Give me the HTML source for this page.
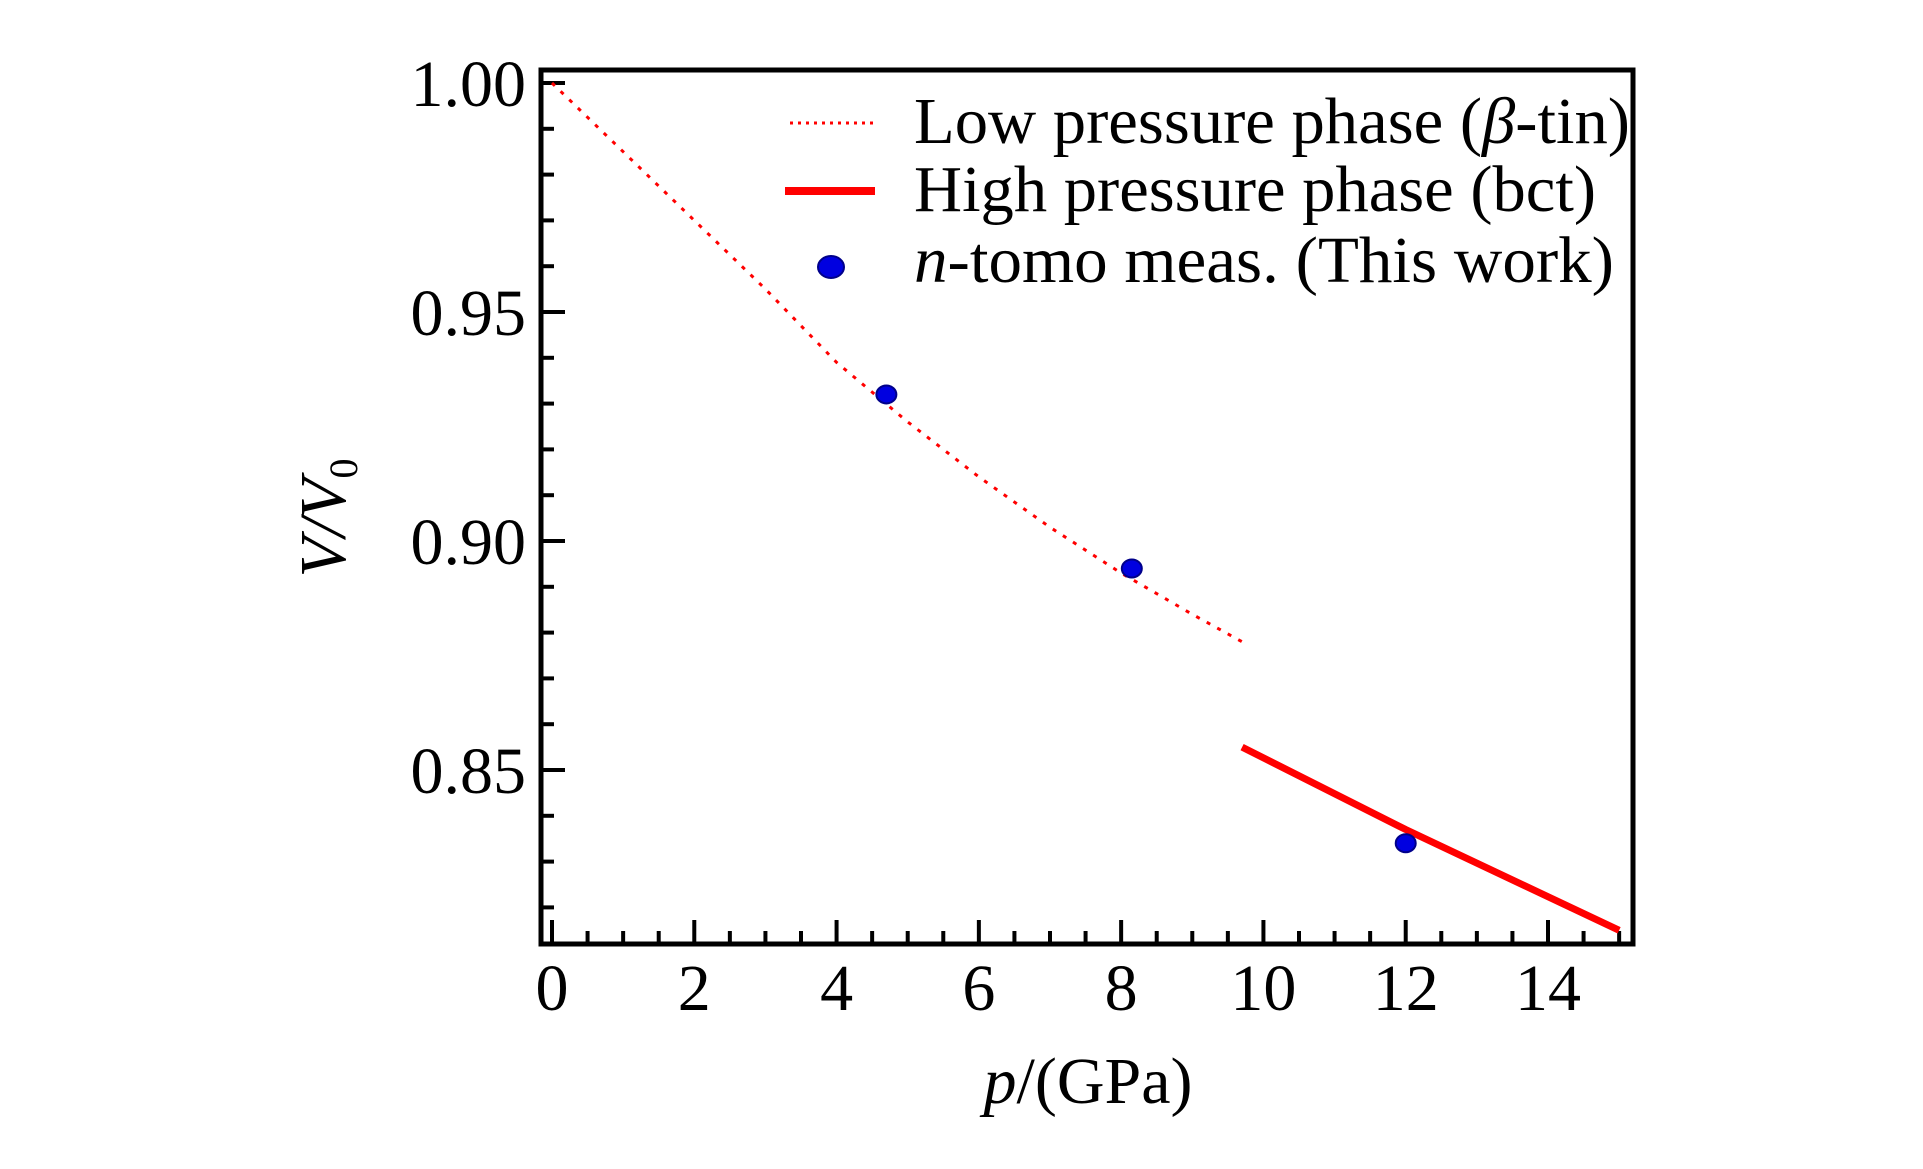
<!DOCTYPE html>
<html><head><meta charset="utf-8"><style>
html,body{margin:0;padding:0;background:#fff;}
svg{display:block;font-family:"Liberation Serif",serif;}
</style></head><body>
<svg id="chart" width="1923" height="1169" viewBox="0 0 1923 1169" xmlns="http://www.w3.org/2000/svg">
<g id="plot"></g>
</svg>
<script>
const lowP = [0, 1, 2, 3, 4, 5, 6, 7, 8, 9, 9.7];
const lowV = [1.0, 0.985, 0.970, 0.955, 0.939, 0.926, 0.914, 0.903, 0.893, 0.884, 0.878];
const highP = [9.7, 12, 15];
const highV = [0.855, 0.837, 0.815];
const measP = [4.7, 8.15, 12.0];
const measV = [0.932, 0.894, 0.834];
const xTicks = [0, 2, 4, 6, 8, 10, 12, 14];
const yTicks = [0.85, 0.90, 0.95, 1.00];

const L=541, R=1633, T=70, B=944;
const x0=552, xPer=(1548-552)/14;
const y100=83, yPer=229/0.05;
const sx = p => x0 + p*xPer;
const sy = v => y100 + (1.0 - v)*yPer;
const NS="http://www.w3.org/2000/svg";
const g=document.getElementById('plot');
function mk(tag, attrs, parent){const e=document.createElementNS(NS,tag);for(const k in attrs)e.setAttribute(k,attrs[k]);(parent||g).appendChild(e);return e;}

const frame=mk('rect',{x:L,y:T,width:R-L,height:B-T,fill:'none',stroke:'#000','stroke-width':5});



for(let p=0;p<=15.001;p+=0.5){
  const major=Math.abs(p/2-Math.round(p/2))<1e-6;
  const t=mk('line',{x1:sx(p),x2:sx(p),y1:B,y2:B-(major?24:13),stroke:'#000','stroke-width':4});
  
  
}
xTicks.forEach(p=>{
  const t=mk('text',{x:sx(p),y:B+66,'font-size':66,'text-anchor':'middle',fill:'#000'});
  t.textContent=String(p);
  
  
});
for(let i=0;i<=19;i++){
  const v=1.0-i*0.01; if(sy(v)>B-2) break;
  const major=i%5===0;
  const t=mk('line',{x1:L,x2:L+(major?24:13),y1:sy(v),y2:sy(v),stroke:'#000','stroke-width':4});
  
  
}
yTicks.forEach(v=>{
  const t=mk('text',{x:526,y:sy(v)+23,'font-size':66,'text-anchor':'end',fill:'#000'});
  t.textContent=v.toFixed(2);
  
  
});
const low=mk('polyline',{points:lowP.map((p,i)=>sx(p)+','+sy(lowV[i])).join(' '),fill:'none',stroke:'#f00','stroke-width':3,'stroke-dasharray':'4 8'});


const high=mk('polyline',{points:highP.map((p,i)=>sx(p)+','+sy(highV[i])).join(' '),fill:'none',stroke:'#f00','stroke-width':7});


measP.forEach((p,i)=>{
  const c=mk('ellipse',{cx:sx(p),cy:sy(measV[i]),rx:10,ry:9,fill:'#0000e0',stroke:'#00008a','stroke-width':2});
  
  
});
const lg=mk('g',{});


const l1=mk('line',{x1:790,x2:873,y1:123,y2:123,stroke:'#f00','stroke-width':3,'stroke-dasharray':'3 5'},lg);


const l2=mk('line',{x1:785,x2:875,y1:191,y2:191,stroke:'#f00','stroke-width':8},lg);


const l3=mk('ellipse',{cx:831,cy:267,rx:13,ry:11,fill:'#0000e0',stroke:'#00008a','stroke-width':2},lg);


</script>
<svg style="position:absolute;left:0;top:0" width="1923" height="1169" xmlns="http://www.w3.org/2000/svg" font-family="Liberation Serif, serif">
<text x="914" y="143" font-size="66" textLength="716" lengthAdjust="spacingAndGlyphs">Low pressure phase (<tspan font-style="italic">β</tspan>-tin)</text>
<text x="914" y="211" font-size="66" textLength="682" lengthAdjust="spacingAndGlyphs">High pressure phase (bct)</text>
<text x="914" y="282" font-size="66" textLength="700" lengthAdjust="spacingAndGlyphs"><tspan font-style="italic">n</tspan>-tomo meas. (This work)</text>
<text x="1088" y="1103" font-size="66" text-anchor="middle"><tspan font-style="italic">p</tspan>/(GPa)</text>
<text transform="translate(345,518) rotate(-90)" font-size="66" text-anchor="middle" font-style="italic">V/V<tspan font-size="40" dy="12" font-style="normal">0</tspan></text>
</svg>
</body></html>
